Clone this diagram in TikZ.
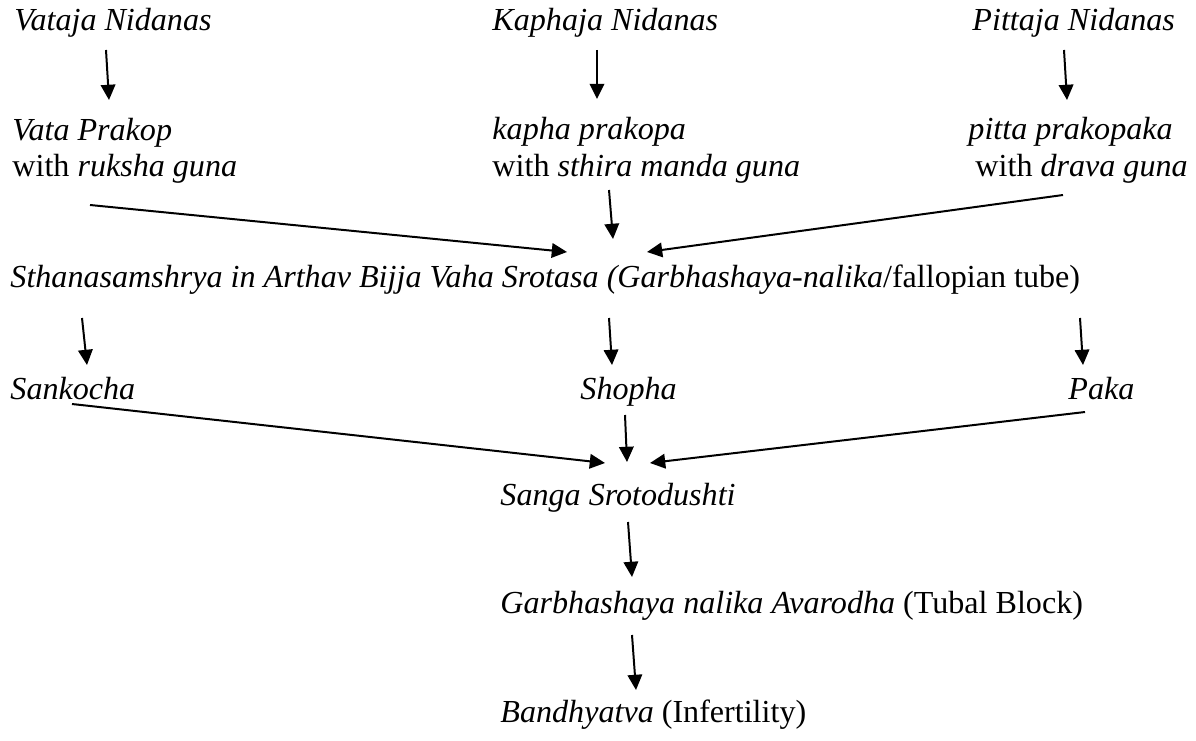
\documentclass[tikz,border=0pt]{standalone}
\usepackage{fontspec}
\setmainfont{Liberation Serif}
\usetikzlibrary{arrows.meta}

\tikzset{
  txt/.style={anchor=base west, inner sep=0pt, font=\fontsize{13.7}{16}\selectfont},
  arr/.style={line width=0.85pt, -{Triangle[length=6.5pt,width=6.2pt]}}
}

\begin{document}
\begin{tikzpicture}[x=0.015cm, y=-0.015cm]
    \useasboundingbox (0,0) rectangle (1196,740);

    % top row
    \node[txt] (vn) at (14,31) {\textit{Vataja Nidanas}};
    \node[txt] (kn) at (492,31) {\textit{Kaphaja Nidanas}};
    \node[txt] (pn) at (972,31) {\textit{Pittaja Nidanas}};

    \node[txt] (vp) at (12,141) {\textit{Vata Prakop}};
    \node[txt] (vg) at (12,177) {with \textit{ruksha guna}};
    \node[txt] (kp) at (492,140) {\textit{kapha prakopa}};
    \node[txt] (kg) at (492,177) {with \textit{sthira manda guna}};
    \node[txt] (pp) at (968,140) {\textit{pitta prakopaka}};
    \node[txt] (pg) at (975,177) {with \textit{drava guna}};

    \node[txt] (st) at (10,287) {\textit{Sthanasamshrya in Arthav Bijja Vaha Srotasa (Garbhashaya-nalika}/fallopian tube)};

    \node[txt] (sa) at (10,399) {\textit{Sankocha}};
    \node[txt] (sh) at (580,399) {\textit{Shopha}};
    \node[txt] (pa) at (1068,399) {\textit{Paka}};

    \node[txt] (ss) at (500,505) {\textit{Sanga Srotodushti}};
    \node[txt] (ga) at (500,613) {\textit{Garbhashaya nalika Avarodha} (Tubal Block)};
    \node[txt] (ba) at (500,722) {\textit{Bandhyatva} (Infertility)};

    % arrow ends
    \coordinate (v1) at (106,50);   \coordinate (v2) at (109,100);
    \coordinate (k1) at (597,50);   \coordinate (k2) at (597,99);
    \coordinate (p1) at (1064,50);  \coordinate (p2) at (1067,100);

    \coordinate (l1) at (90,205);   \coordinate (l2) at (567,252);
    \coordinate (m1) at (609,190);  \coordinate (m2) at (613,239);
    \coordinate (r1) at (1063,195); \coordinate (r2) at (647,252);

    \coordinate (a1) at (82,318);   \coordinate (a2) at (87,365);
    \coordinate (b1) at (609,318);  \coordinate (b2) at (612,365);
    \coordinate (c1) at (1080,318); \coordinate (c2) at (1083,365);

    \coordinate (d1) at (72,404);   \coordinate (d2) at (605,463);
    \coordinate (e1) at (625,415);  \coordinate (e2) at (627,462);
    \coordinate (f1) at (1085,412); \coordinate (f2) at (650,463);

    \coordinate (g1) at (628,522);  \coordinate (g2) at (632,577);
    \coordinate (h1) at (632,635);  \coordinate (h2) at (636,690);

    \draw[arr] (v1) -- (v2);
    \draw[arr] (k1) -- (k2);
    \draw[arr] (p1) -- (p2);
    \draw[arr] (l1) -- (l2);
    \draw[arr] (m1) -- (m2);
    \draw[arr] (r1) -- (r2);
    \draw[arr] (a1) -- (a2);
    \draw[arr] (b1) -- (b2);
    \draw[arr] (c1) -- (c2);
    \draw[arr] (d1) -- (d2);
    \draw[arr] (e1) -- (e2);
    \draw[arr] (f1) -- (f2);
    \draw[arr] (g1) -- (g2);
    \draw[arr] (h1) -- (h2);
\end{tikzpicture}
\end{document}
